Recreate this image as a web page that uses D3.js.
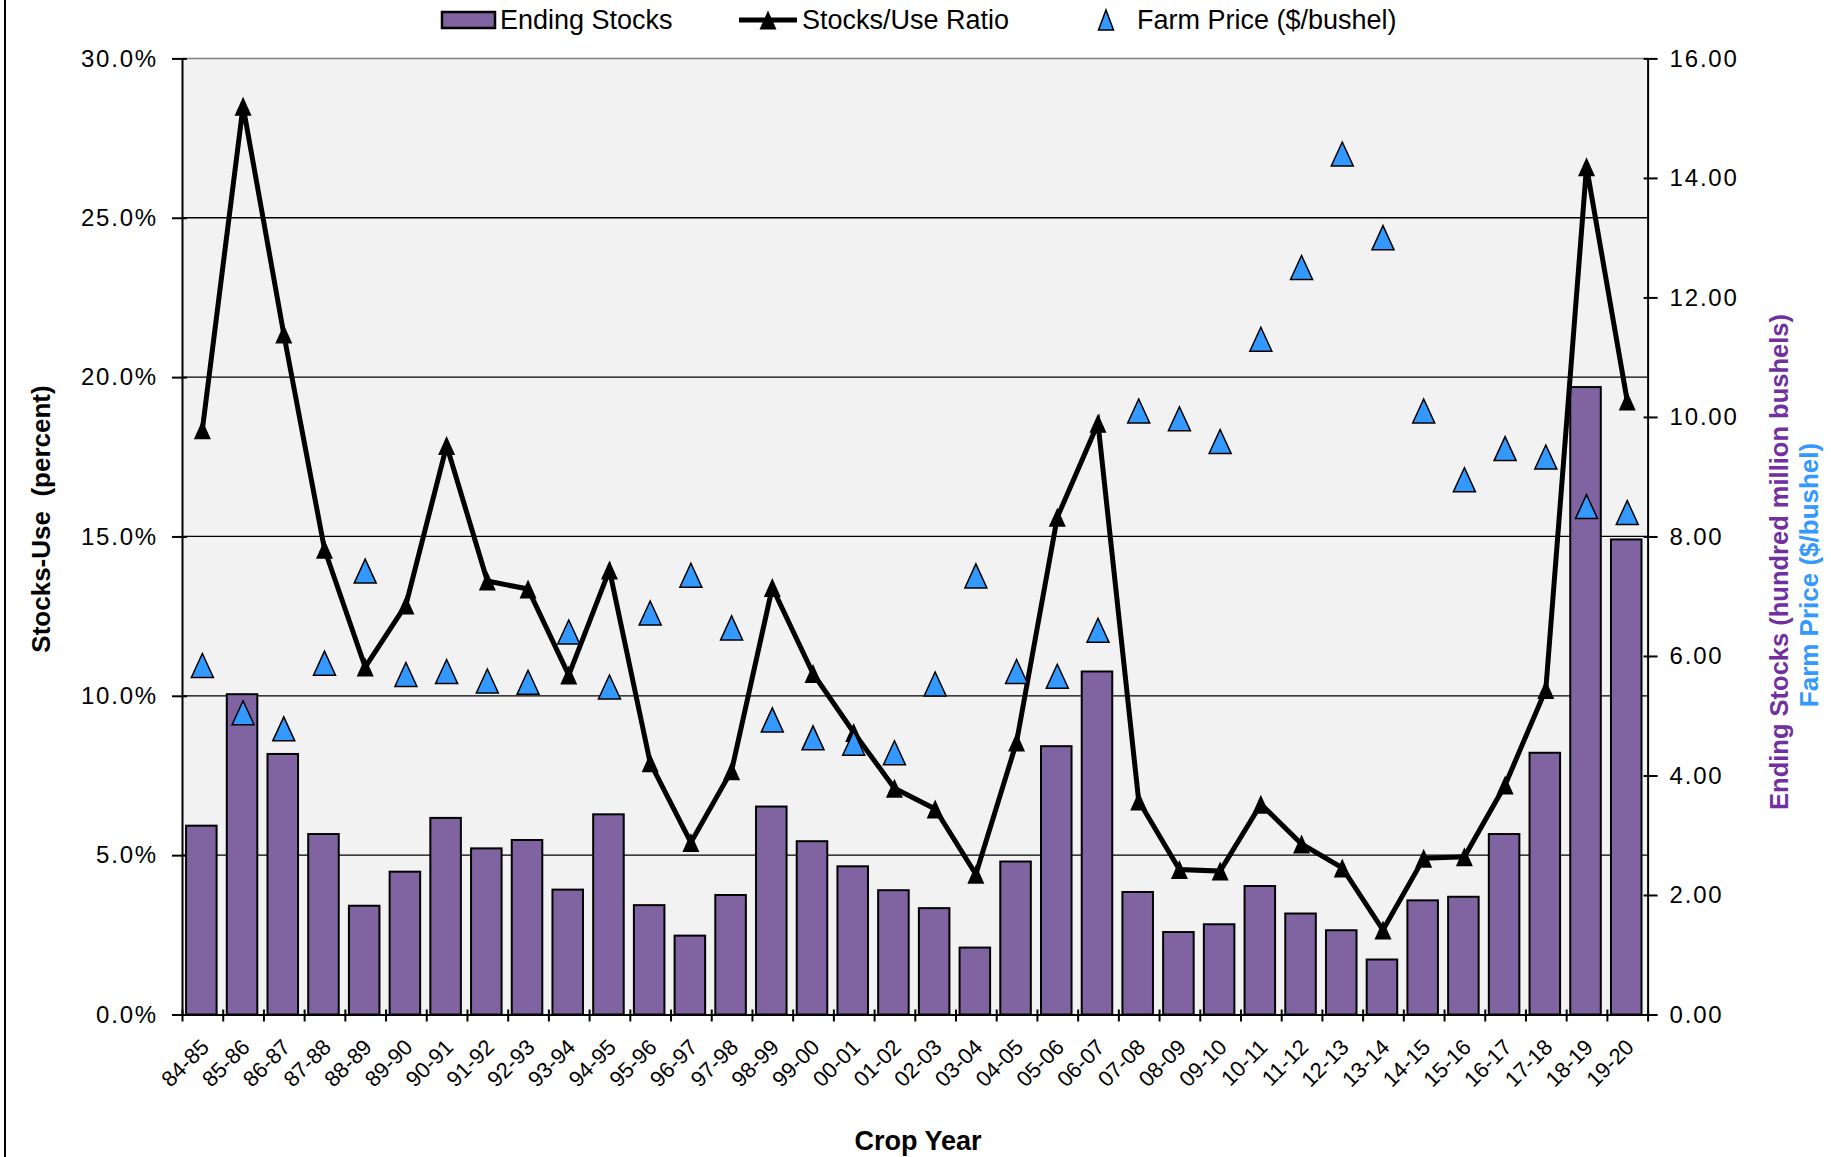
<!DOCTYPE html>
<html>
<head>
<meta charset="utf-8">
<script src="https://cdn.jsdelivr.net/npm/d3@7"></script>
<style>
  body { margin: 0; background: #fff; }
  svg { display: block; font-family: "Liberation Sans", Arial, sans-serif; }
</style>
</head>
<body>
<div id="chart"></div>
<script>
var years = ['84-85','85-86','86-87','87-88','88-89','89-90','90-91','91-92','92-93','93-94',
  '94-95','95-96','96-97','97-98','98-99','99-00','00-01','01-02','02-03','03-04',
  '04-05','05-06','06-07','07-08','08-09','09-10','10-11','11-12','12-13','13-14',
  '14-15','15-16','16-17','17-18','18-19','19-20']

// hundred million bushels
var endingStocks = [3.16, 5.36, 4.36, 3.02, 1.82, 2.39, 3.29, 2.78, 2.92, 2.09,
  3.35, 1.83, 1.32, 2.00, 3.48, 2.90, 2.48, 2.08, 1.78, 1.12,
  2.56, 4.49, 5.74, 2.05, 1.38, 1.51, 2.15, 1.69, 1.41, 0.92,
  1.91, 1.97, 3.02, 4.38, 10.50, 7.95]

// percent
var stocksUse = [18.35, 28.5, 21.35, 14.6, 10.9, 12.85, 17.85, 13.6, 13.35, 10.65,
  13.95, 7.9, 5.4, 7.65, 13.4, 10.7, 8.85, 7.1, 6.45, 4.4,
  8.55, 15.6, 18.55, 6.7, 4.55, 4.5, 6.6, 5.35, 4.6, 2.65,
  4.9, 4.95, 7.2, 10.2, 26.6, 19.25]

// $/bushel
var farmPrice = [5.84, 5.05, 4.78, 5.88, 7.42, 5.69, 5.74, 5.58, 5.56, 6.40,
  5.48, 6.72, 7.35, 6.47, 4.93, 4.63, 4.54, 4.38, 5.53, 7.34,
  5.74, 5.66, 6.43, 10.10, 9.97, 9.59, 11.30, 12.50, 14.40, 13.00,
  10.10, 8.95, 9.47, 9.33, 8.50, 8.40]

var leftTicks = [0, 5, 10, 15, 20, 25, 30]
var rightTicks = [0, 2, 4, 6, 8, 10, 12, 14, 16]

var W = 1831, H = 1157
var L = 182, R = 1647.6, T = 58.4, B = 1014.5
var purple = '#8064A2', blue = '#3399FF'

var svg = d3.select('#chart')
  .append('svg')
  .attr('width', W)
  .attr('height', H)

var x = d3.scaleBand().domain(years).range([L, R])
var xEdge = d3.scaleLinear().domain([0, years.length]).range([L, R])
var yL = d3.scaleLinear().domain([0, 30]).range([B, T])
var yR = d3.scaleLinear().domain([0, 16]).range([B, T])

function tri(w, h) {
  return 'M0,' + (-h / 2) + 'L' + (w / 2) + ',' + (h / 2) + 'L' + (-w / 2) + ',' + (h / 2) + 'Z'
}

// frame line on the left
svg.append('line')
  .attr('x1', 5).attr('x2', 5).attr('y1', 0).attr('y2', H)
  .attr('stroke', '#000').attr('stroke-width', 2)

// plot area
svg.append('rect')
  .attr('x', L).attr('y', T).attr('width', R - L).attr('height', B - T)
  .attr('fill', '#f2f2f2')

svg.append('line')
  .attr('x1', L).attr('x2', R).attr('y1', T).attr('y2', T)
  .attr('stroke', '#808080').attr('stroke-width', 1.5)

svg.append('g')
  .selectAll('line')
  .data(leftTicks.filter(d => d > 0 && d < 30))
  .enter()
  .append('line')
  .attr('x1', L).attr('x2', R)
  .attr('y1', d => yL(d)).attr('y2', d => yL(d))
  .attr('stroke', '#000').attr('stroke-width', 1.3)

// bars
var bw = x.bandwidth()
svg.append('g')
  .selectAll('rect')
  .data(endingStocks)
  .enter()
  .append('rect')
  .attr('x', (d, i) => x(years[i]) + bw * 0.1)
  .attr('width', bw * 0.75)
  .attr('y', d => yR(d))
  .attr('height', d => B - yR(d))
  .attr('fill', purple)
  .attr('stroke', '#000')
  .attr('stroke-width', 2)

// stocks/use line
var line = d3.line()
  .x((d, i) => x(years[i]) + bw / 2)
  .y(d => yL(d))

svg.append('path')
  .datum(stocksUse)
  .attr('d', line)
  .attr('fill', 'none')
  .attr('stroke', '#000')
  .attr('stroke-width', 5)
  .attr('stroke-linejoin', 'miter')

svg.append('g')
  .selectAll('path')
  .data(stocksUse)
  .enter()
  .append('path')
  .attr('d', tri(17, 19))
  .attr('transform', (d, i) => 'translate(' + (x(years[i]) + bw / 2) + ',' + yL(d) + ')')
  .attr('fill', '#000')

// farm price markers
svg.append('g')
  .selectAll('path')
  .data(farmPrice)
  .enter()
  .append('path')
  .attr('d', tri(22, 24))
  .attr('transform', (d, i) => 'translate(' + (x(years[i]) + bw / 2) + ',' + yR(d) + ')')
  .attr('fill', blue)
  .attr('stroke', '#000')
  .attr('stroke-width', 1.5)

// axes
var axL = svg.append('g')
  .attr('transform', 'translate(' + L + ',0)')
  .call(d3.axisLeft(yL).tickValues(leftTicks).tickFormat(d => d.toFixed(1) + '%')
    .tickSizeInner(10).tickSizeOuter(0).tickPadding(14))
axL.selectAll('.tick line').attr('x1', 5)

var axR = svg.append('g')
  .attr('transform', 'translate(' + R + ',0)')
  .call(d3.axisRight(yR).tickValues(rightTicks).tickFormat(d => d.toFixed(2))
    .tickSizeInner(10).tickSizeOuter(0).tickPadding(12))
axR.selectAll('.tick line').attr('x1', -4)

var axB = svg.append('g')
  .attr('transform', 'translate(0,' + B + ')')
  .call(d3.axisBottom(xEdge).tickValues(d3.range(years.length + 1)).tickFormat('')
    .tickSizeInner(7).tickSizeOuter(0))
axB.selectAll('.tick line').attr('y1', -5)

svg.selectAll('.domain').attr('stroke', '#000').attr('stroke-width', 2)
svg.selectAll('.tick line').attr('stroke', '#000').attr('stroke-width', 2)
svg.selectAll('.tick text')
  .attr('font-family', '"Liberation Sans", Arial, sans-serif')
  .attr('font-size', 24)
  .attr('letter-spacing', 1.8)
  .attr('fill', '#000')

// category labels
svg.append('g')
  .selectAll('text')
  .data(years)
  .enter()
  .append('text')
  .attr('transform', d => 'translate(' + (x(d) + bw / 2 + 8) + ',' + (B + 34) + ') rotate(-45)')
  .attr('text-anchor', 'end')
  .attr('font-size', 22)
  .text(d => d)

// titles
svg.append('text')
  .attr('x', 918).attr('y', 1150)
  .attr('text-anchor', 'middle')
  .attr('font-size', 27).attr('font-weight', 'bold')
  .text('Crop Year')

svg.append('text')
  .attr('transform', 'translate(50,519) rotate(-90)')
  .attr('text-anchor', 'middle')
  .attr('font-size', 26).attr('font-weight', 'bold')
  .style('white-space', 'pre')
  .text('Stocks-Use  (percent)')

svg.append('text')
  .attr('transform', 'translate(1788,562) rotate(-90)')
  .attr('text-anchor', 'middle')
  .attr('font-size', 25.5).attr('font-weight', 'bold')
  .attr('fill', '#7030A0')
  .text('Ending Stocks (hundred million bushels)')

svg.append('text')
  .attr('transform', 'translate(1818,575) rotate(-90)')
  .attr('text-anchor', 'middle')
  .attr('font-size', 26).attr('font-weight', 'bold')
  .attr('fill', blue)
  .text('Farm Price ($/bushel)')

// legend
var lg = svg.append('g').attr('font-size', 27)

lg.append('rect')
  .attr('x', 442).attr('y', 12).attr('width', 53).attr('height', 16)
  .attr('fill', purple).attr('stroke', '#000').attr('stroke-width', 2.5)
lg.append('text').attr('x', 500).attr('y', 29).text('Ending Stocks')

lg.append('line')
  .attr('x1', 739).attr('x2', 797).attr('y1', 20).attr('y2', 20)
  .attr('stroke', '#000').attr('stroke-width', 5)
lg.append('path').attr('d', tri(17, 19)).attr('transform', 'translate(768,20)').attr('fill', '#000')
lg.append('text').attr('x', 802).attr('y', 29).text('Stocks/Use Ratio')

lg.append('path').attr('d', tri(15, 20)).attr('transform', 'translate(1106,20)')
  .attr('fill', blue).attr('stroke', '#000').attr('stroke-width', 1.5)
lg.append('text').attr('x', 1137).attr('y', 29).text('Farm Price ($/bushel)')
</script>
</body>
</html>
